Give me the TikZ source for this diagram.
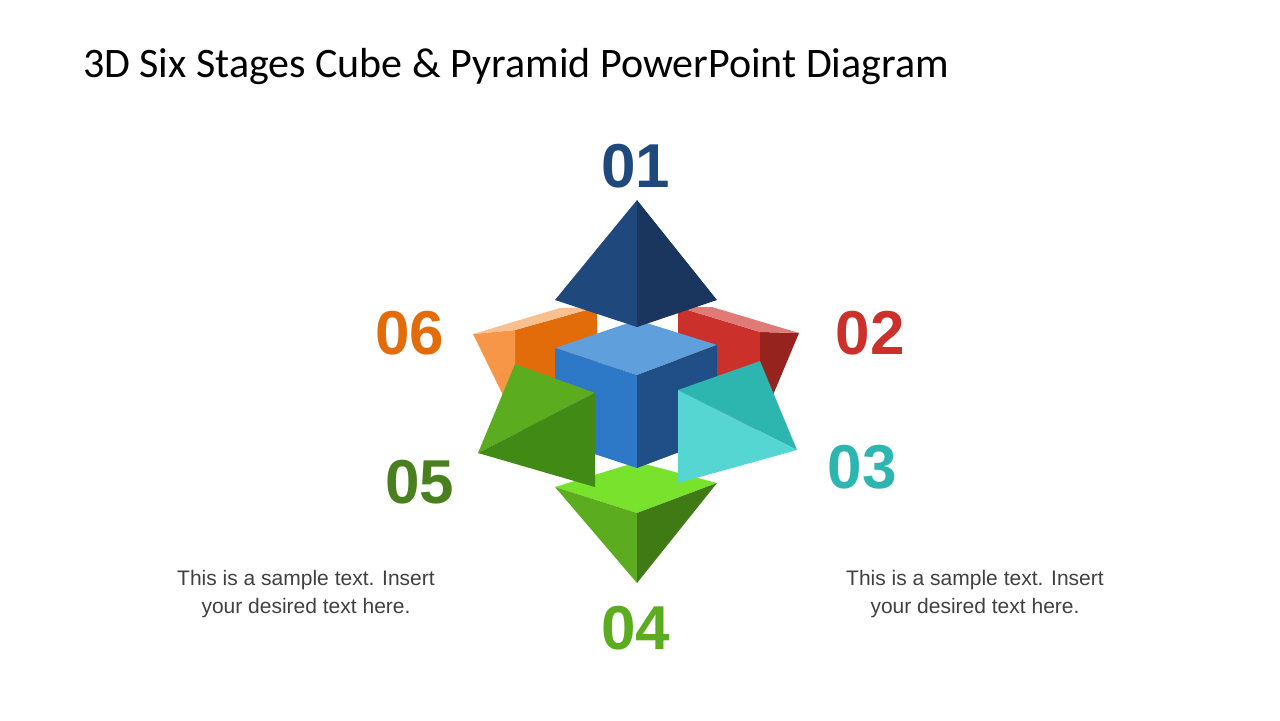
\documentclass[tikz,border=0pt]{standalone}
\usepackage{fontspec}
\setmainfont{Liberation Sans}
\newfontfamily\titlefont{Carlito}
\definecolor{c1}{HTML}{1F497D}
\definecolor{c1d}{HTML}{1A365F}
\definecolor{c2}{HTML}{CC302B}
\definecolor{c2d}{HTML}{97231F}
\definecolor{c2l}{HTML}{E07A76}
\definecolor{c3}{HTML}{2DB5B0}
\definecolor{c3l}{HTML}{55D6D3}
\definecolor{c4}{HTML}{5BAD1F}
\definecolor{c4d}{HTML}{3F7A14}
\definecolor{c4l}{HTML}{79E22D}
\definecolor{c5}{HTML}{4A7F1F}
\definecolor{c5l}{HTML}{5BAD1F}
\definecolor{c5d}{HTML}{428A16}
\definecolor{c6}{HTML}{E36C0A}
\definecolor{c6l}{HTML}{F79646}
\definecolor{c6h}{HTML}{FABF8F}
\definecolor{cbt}{HTML}{5FA0DC}
\definecolor{cbl}{HTML}{2E78C8}
\definecolor{cbr}{HTML}{1F4F86}
\definecolor{tg}{HTML}{404040}
\tikzset{num/.style={font=\fontsize{31}{31}\selectfont\bfseries},
body/.style={font=\fontsize{10.5}{14}\selectfont,text=tg,align=center}}
\begin{document}
\begin{tikzpicture}[x=0.5pt,y=-0.5pt]
\useasboundingbox (0,0) rectangle (1280,720);
\node[anchor=west,font=\titlefont\fontsize{21}{21}\selectfont] (title) at (76,67) {3D Six Stages Cube \& Pyramid PowerPoint Diagram};
% bottom pyramid
\fill[c4l] (555,487)--(637,462)--(717,483)--(637,513)--cycle;
\fill[c4] (555,487)--(637,513)--(637,583)--cycle;
\fill[c4d] (717,483)--(637,513)--(637,583)--cycle;
% orange
\fill[c6] (515,330)--(597,307)--(597,430)--(515,430)--cycle;
\fill[c6l] (473,334)--(515,330)--(515,400)--(503,395)--cycle;
\fill[c6h] (473,334)--(560,308)--(597,307)--(515,330)--cycle;
% red
\fill[c2] (678,307)--(760,332)--(760,430)--(678,430)--cycle;
\fill[c2d] (760,332)--(799,333)--(773,395)--(760,400)--cycle;
\fill[c2l] (678,307)--(712,307)--(799,333)--(760,332)--cycle;
% cube
\fill[cbt] (555,348)--(637,320)--(717,345)--(637,375)--cycle;
\fill[cbl] (555,348)--(637,375)--(637,468)--(555,441)--cycle;
\fill[cbr] (717,345)--(637,375)--(637,468)--(717,438)--cycle;
% top pyramid
\fill[c1] (637,200)--(555,300)--(637,327)--cycle;
\fill[c1d] (637,200)--(717,300)--(637,327)--cycle;
% green 05
\fill[c5l] (515,364)--(595,393)--(478,453)--cycle;
\fill[c5d] (595,393)--(595,487)--(478,453)--cycle;
% teal 03
\fill[c3] (760,361)--(797,450)--(678,390)--cycle;
\fill[c3l] (678,390)--(797,450)--(678,483)--cycle;
% numbers
\node[num,text=c1] (n1) at (636,166) {01};
\node[num,text=c2] (n2) at (870,333) {02};
\node[num,text=c3] (n3) at (862,467) {03};
\node[num,text=c4] (n4) at (636,628) {04};
\node[num,text=c5] (n5) at (420,482) {05};
\node[num,text=c6] (n6) at (410,333) {06};
\node[body] (t1) at (306,594) {This is a sample text. Insert\\your desired text here.};
\node[body] (t2) at (975,594) {This is a sample text. Insert\\your desired text here.};
\end{tikzpicture}
\end{document}
